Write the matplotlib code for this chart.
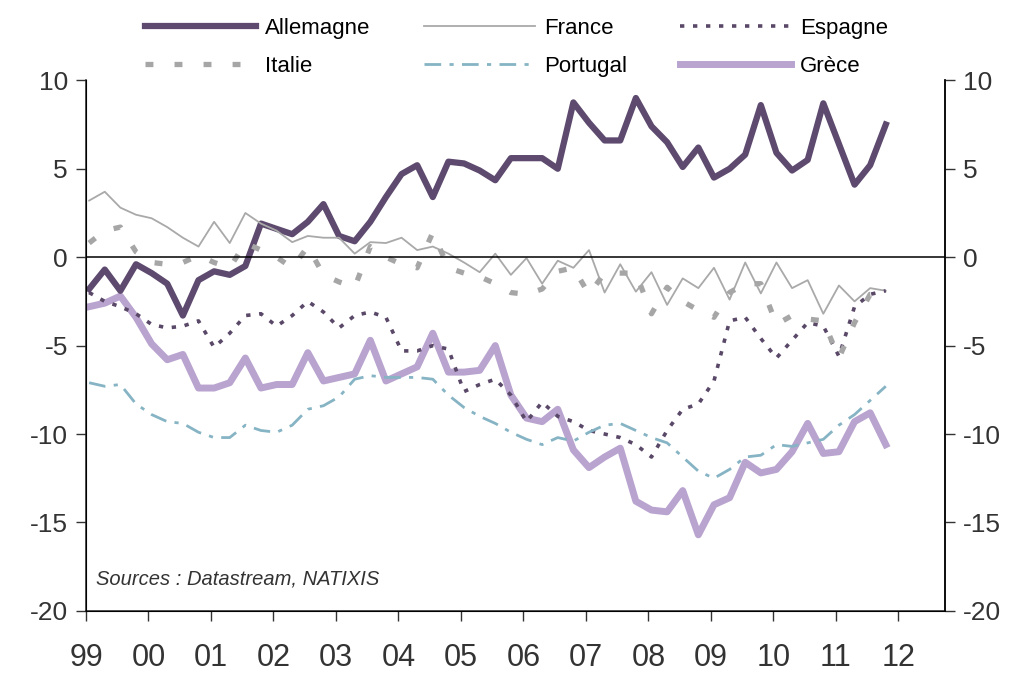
import matplotlib
matplotlib.use("Agg")
import matplotlib.pyplot as plt
import numpy as np

plt.rcParams['font.family'] = ['Liberation Sans', 'DejaVu Sans']
plt.rcParams['axes.unicode_minus'] = False

# trimestres 1999T1 .. 2011T4
quarters = 1999.05 + np.arange(52) / 4.0

allemagne = [-1.8, -0.7, -1.9, -0.4, -0.9, -1.5, -3.3, -1.3, -0.8, -1.0, -0.5, 1.9, 1.6,
             1.3, 2.0, 3.0, 1.2, 0.9, 2.0, 3.4, 4.7, 5.2, 3.4, 5.4, 5.3, 4.9, 4.35,
             5.6, 5.6, 5.6, 5.0, 8.75, 7.6, 6.6, 6.6, 9.0, 7.4, 6.5, 5.1, 6.2, 4.5,
             5.0, 5.8, 8.6, 5.9, 4.9, 5.5, 8.7, 6.4, 4.1, 5.2, 7.5]
france = [3.2, 3.7, 2.8, 2.4, 2.2, 1.7, 1.1, 0.6, 2.0, 0.8, 2.5, 1.9, 1.5,
          0.85, 1.2, 1.1, 1.1, 0.2, 0.85, 0.8, 1.1, 0.4, 0.6, 0.2, -0.3, -0.85, 0.2,
          -1.0, -0.05, -1.5, -0.2, -0.6, 0.4, -2.0, -0.4, -1.95, -0.85, -2.7, -1.2, -1.75, -0.6,
          -2.4, -0.3, -2.05, -0.3, -1.75, -1.3, -3.2, -1.6, -2.5, -1.75, -1.9]
espagne = [-2.0, -2.5, -2.8, -3.2, -3.8, -4.0, -3.9, -3.6, -5.1, -4.3, -3.3, -3.2, -3.9,
           -3.3, -2.5, -3.1, -4.0, -3.3, -3.1, -3.4, -5.3, -5.3, -5.0, -5.2, -7.6, -7.2, -6.9,
           -7.8, -9.3, -8.2, -9.0, -9.3, -9.8, -10.0, -10.2, -10.6, -11.3, -9.8, -8.6, -8.3, -7.0,
           -3.6, -3.4, -4.6, -5.7, -4.7, -3.7, -3.9, -5.6, -2.8, -2.1, -1.9]
italie = [0.8, 1.5, 1.7, 0.3, -0.3, -0.4, -0.3, 0.1, -0.3, -0.6, 0.8, 0.4, 0.0,
          -0.6, 0.6, -1.0, -1.4, -1.7, 0.6, 0.0, -0.4, -0.6, 1.4, -0.6, -0.9, -1.1, -1.5,
          -2.0, -2.1, -1.8, -0.8, -0.6, -2.1, -0.9, -0.9, -0.9, -3.2, -1.7, -2.5, -3.0, -3.4,
          -2.0, -1.5, -1.5, -3.8, -3.3, -3.5, -3.6, -5.7, -3.7, -2.1, -2.0]
portugal = [-7.1, -7.3, -7.2, -8.3, -8.9, -9.3, -9.4, -9.9, -10.2, -10.2, -9.5, -9.8, -9.9,
            -9.5, -8.6, -8.4, -7.9, -6.9, -6.7, -6.8, -6.8, -6.8, -6.9, -7.8, -8.5, -9.0, -9.4,
            -9.9, -10.3, -10.6, -10.2, -10.4, -9.9, -9.5, -9.4, -9.8, -10.2, -10.5, -11.3, -12.1, -12.5,
            -12.0, -11.3, -11.2, -10.6, -10.7, -10.5, -10.3, -9.5, -8.9, -8.1, -7.3]
grece = [-2.8, -2.6, -2.2, -3.4, -4.9, -5.8, -5.5, -7.4, -7.4, -7.1, -5.7, -7.4, -7.2,
         -7.2, -5.4, -7.0, -6.8, -6.6, -4.7, -7.0, -6.6, -6.2, -4.3, -6.5, -6.5, -6.4, -5.0,
         -7.8, -9.1, -9.3, -8.6, -10.9, -11.9, -11.3, -10.8, -13.8, -14.3, -14.4, -13.2, -15.7, -14.0,
         -13.6, -11.6, -12.2, -12.0, -11.0, -9.4, -11.1, -11.0, -9.3, -8.8, -10.6]

year_ticks = np.arange(1999, 2013)
year_labels = [f"{y % 100:02d}" for y in year_ticks]
y_ticks = [-20, -15, -10, -5, 0, 5, 10]

fig = plt.figure(figsize=(10.24, 6.75), dpi=100)
ax = fig.add_axes([0.084, 0.095, 0.839, 0.786])

h_all, = ax.plot(quarters, allemagne, color='#5d4a6e', lw=4.5, label='Allemagne')
h_fr, = ax.plot(quarters, france, color='#a9a9a9', lw=1.3, label='France')
h_es, = ax.plot(quarters, espagne, color='#5a4868', lw=2.6, dashes=(1.2, 2.4), label='Espagne')
h_it, = ax.plot(quarters, italie, color='#a6a6a6', lw=3.8, dashes=(1.5, 4.0), label='Italie')
h_pt, = ax.plot(quarters, portugal, color='#86b4c4', lw=2.0, dashes=(6, 3, 1.5, 3), label='Portugal')
h_gr, = ax.plot(quarters, grece, color='#b9a3cf', lw=5.0, label='Grèce', zorder=1.9)

ax.axhline(0, color='black', lw=1.1, zorder=3)

ax.set_xlim(1999, 2012.75)
ax.set_ylim(-20, 10)
ax.set_xticks(year_ticks)
ax.set_xticklabels(year_labels)
ax.set_yticks(y_ticks)
ax.tick_params(axis='x', direction='out', length=7, width=1, labelsize=22, pad=16, colors='#333333')
ax.tick_params(axis='y', direction='out', length=7, width=1, labelsize=19, pad=6, colors='#333333')
ax.spines['top'].set_visible(False)
for s in ['left', 'right', 'bottom']:
    ax.spines[s].set_linewidth(1.1)
    ax.spines[s].set_color('#222222')

ax2 = ax.twinx()
ax2.set_ylim(-20, 10)
ax2.set_yticks(y_ticks)
ax2.tick_params(axis='y', direction='out', length=7, width=1, labelsize=19, pad=6, colors='#333333')
ax2.spines['top'].set_visible(False)
ax2.spines['right'].set_linewidth(1.1)

ax.text(0.012, 0.06, 'Sources : Datastream, NATIXIS', transform=ax.transAxes,
        fontsize=14.5, style='italic', color='#333333', va='center')

handles = [h_all, h_it, h_fr, h_pt, h_es, h_gr]
fig.legend(handles, [h.get_label() for h in handles], ncol=3, loc='upper left',
           bbox_to_anchor=(0.122, 1.003), frameon=False, fontsize=16,
           handlelength=5.0, handletextpad=0.4, columnspacing=2.4, labelspacing=0.75)

fig.savefig('out.png', dpi=100, facecolor='white')
